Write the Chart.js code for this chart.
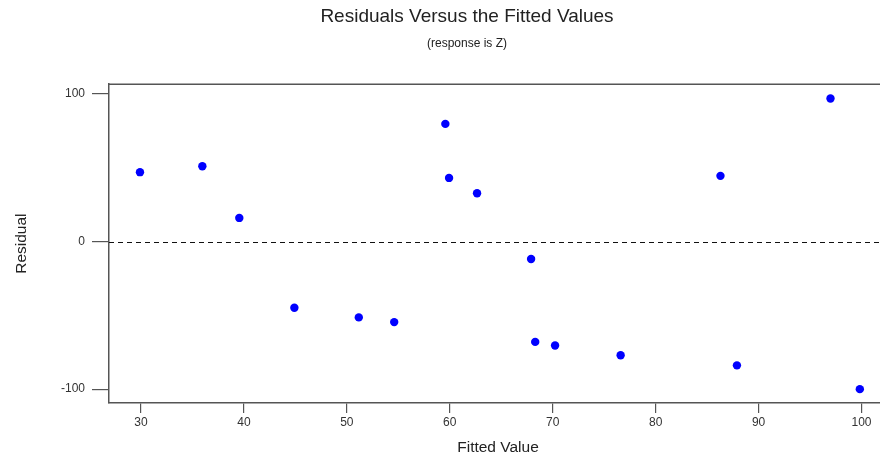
<!DOCTYPE html>
<html>
<head>
<meta charset="utf-8">
<script src="https://cdn.jsdelivr.net/npm/chart.js@4/dist/chart.umd.min.js"></script>
<style>
  html, body { margin: 0; padding: 0; background: #fff; overflow: hidden; width: 880px; height: 460px; }
  canvas { display: block; }
</style>
</head>
<body>
<canvas id="c" width="954" height="460"></canvas>
<script>
// ---- data ----
const titleText = 'Residuals Versus the Fitted Values';
const subtitleText = '(response is Z)';
const xAxisTitle = 'Fitted Value';
const yAxisTitle = 'Residual';

const fittedValues = [29.9, 35.96, 39.55, 44.9, 51.16, 54.6, 59.57, 59.93, 62.65, 67.9, 68.3, 70.23, 76.6, 86.3, 87.9, 96.99, 99.84];
const residuals    = [47.0, 51.0, 16.0, -44.9, -51.4, -54.6, 79.7, 43.1, 32.7, -11.8, -68.0, -70.4, -77.0, 44.5, -83.9, 96.9, -100.0];

const xRange = [26.89, 102.48];
const yRange = [-109.4, 106.6];
const xTickStep = 10;
const yTickStep = 100;
const zeroLine = 0;

const FONT = "'Liberation Sans', Arial, Helvetica, sans-serif";

const points = fittedValues.map((x, i) => ({ x: x, y: residuals[i] }));

const framePlugin = {
  id: 'frame',
  beforeDatasetsDraw(chart) {
    const { ctx, chartArea: a, scales } = chart;
    ctx.save();
    // top frame line
    ctx.strokeStyle = '#555';
    ctx.lineWidth = 1.5;
    ctx.beginPath();
    ctx.moveTo(a.left, a.top);
    ctx.lineTo(a.right, a.top);
    ctx.stroke();
    // dashed zero reference line
    const y0 = Math.round(scales.y.getPixelForValue(zeroLine)) + 0.5;
    ctx.strokeStyle = '#111';
    ctx.lineWidth = 1;
    ctx.setLineDash([5, 4]);
    ctx.beginPath();
    ctx.moveTo(a.left, y0);
    ctx.lineTo(a.right, y0);
    ctx.stroke();
    ctx.restore();
  }
};

new Chart(document.getElementById('c'), {
  type: 'scatter',
  data: {
    datasets: [{
      data: points,
      backgroundColor: '#0000FF',
      borderColor: '#0000FF',
      pointRadius: 4.2,
      pointHoverRadius: 4.2,
      borderWidth: 0
    }]
  },
  plugins: [framePlugin],
  options: {
    responsive: false,
    animation: false,
    layout: { padding: { left: 0, right: 20, top: 0, bottom: 0 } },
    plugins: {
      legend: { display: false },
      tooltip: { enabled: false },
      title: {
        display: true,
        text: titleText,
        color: '#222',
        font: { family: FONT, size: 19, weight: 'normal' },
        padding: { top: 5.5, bottom: 0 }
      },
      subtitle: {
        display: true,
        text: subtitleText,
        color: '#222',
        font: { family: FONT, size: 12, weight: 'normal' },
        padding: { top: 8, bottom: 33.5 }
      }
    },
    scales: {
      x: {
        type: 'linear',
        position: 'bottom',
        min: xRange[0],
        max: xRange[1],
        ticks: {
          stepSize: xTickStep,
          includeBounds: false,
          color: '#333',
          font: { family: FONT, size: 12 },
          padding: 2,
          maxRotation: 0
        },
        grid: { drawOnChartArea: false, drawTicks: true, tickLength: 10, color: '#555', lineWidth: 1.2 },
        border: { display: true, color: '#555', width: 1.5 },
        title: {
          display: true,
          text: xAxisTitle,
          color: '#222',
          font: { family: FONT, size: 15.5 },
          padding: { top: 0, bottom: 2.7 }
        },
        afterFit(scale) { scale.height = 57; }
      },
      y: {
        type: 'linear',
        position: 'left',
        min: yRange[0],
        max: yRange[1],
        ticks: {
          stepSize: yTickStep,
          includeBounds: false,
          color: '#333',
          font: { family: FONT, size: 12 },
          padding: 7
        },
        grid: { drawOnChartArea: false, drawTicks: true, tickLength: 17, color: '#555', lineWidth: 1.2 },
        border: { display: true, color: '#555', width: 1.5 },
        title: {
          display: true,
          text: yAxisTitle,
          color: '#222',
          font: { family: FONT, size: 15.5 },
          padding: { top: 12.7, bottom: 0 }
        },
        afterFit(scale) { scale.width = 109; }
      },
      yRight: {
        type: 'linear',
        position: 'right',
        display: true,
        min: yRange[0],
        max: yRange[1],
        ticks: { display: false },
        grid: { display: false, drawTicks: false },
        border: { display: false },
        afterFit(scale) { scale.width = 47; }
      }
    }
  }
});
</script>
</body>
</html>
